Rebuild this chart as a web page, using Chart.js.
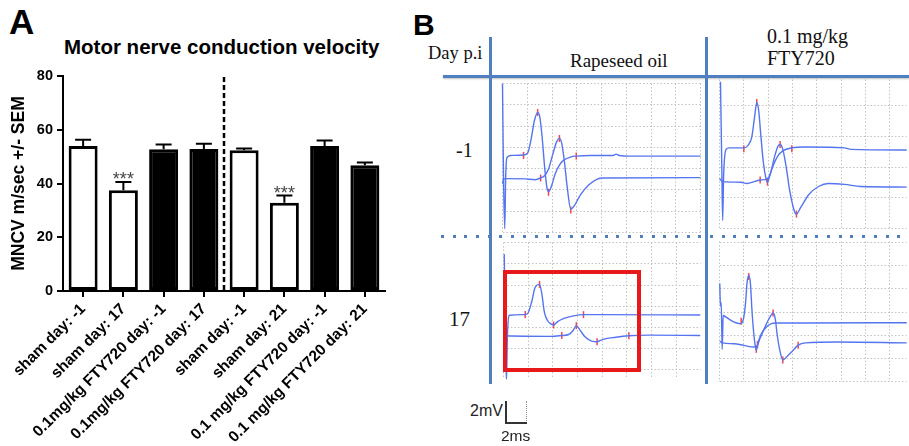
<!DOCTYPE html>
<html><head><meta charset="utf-8">
<script src="https://cdn.jsdelivr.net/npm/chart.js@4.4.1/dist/chart.umd.min.js"></script>
<style>
html,body{margin:0;padding:0;background:#fff;overflow:hidden;width:909px;height:446px}
.abs{position:absolute;white-space:nowrap}
.sans{font-family:"Liberation Sans",Arial,sans-serif;color:#000}
.serif{font-family:"Liberation Serif","Times New Roman",serif;color:#111}
canvas{position:absolute;display:block}
.frame{position:absolute;background:#4f7fbf}
</style></head><body>

<!-- Panel A -->
<div class="abs sans" style="left:9px;top:4px;font-size:35px;line-height:35px;font-weight:bold">A</div>
<div class="abs sans" style="left:64px;top:36.5px;font-size:20.5px;line-height:20.5px;font-weight:bold">Motor nerve conduction velocity</div>
<canvas id="chartA" width="400" height="446" style="left:0;top:0"></canvas>

<!-- Panel B frame and labels -->
<div class="abs sans" style="left:413px;top:9.5px;font-size:30px;line-height:30px;font-weight:bold">B</div>
<div class="abs serif" style="left:428px;top:44px;font-size:18.5px;line-height:18.5px">Day p.i</div>
<div class="abs serif" style="left:570px;top:51px;font-size:19px;line-height:19px">Rapeseed oil</div>
<div class="abs serif" style="left:767px;top:26px;font-size:20px;line-height:20px">0.1 mg/kg</div>
<div class="abs serif" style="left:767px;top:48px;font-size:20px;line-height:20px">FTY720</div>
<div class="abs serif" style="left:456px;top:140px;font-size:20px;line-height:20px">-1</div>
<div class="abs serif" style="left:449px;top:309px;font-size:21px;line-height:21px">17</div>

<canvas id="q1" width="209" height="160" style="left:497px;top:78px"></canvas>
<canvas id="q2" width="198" height="160" style="left:714px;top:74px"></canvas>
<canvas id="q3" width="208" height="147" style="left:498px;top:237px"></canvas>
<canvas id="q4" width="198" height="151" style="left:714px;top:236px"></canvas>

<div class="frame" style="left:443px;top:75px;width:466px;height:3px;box-shadow:0 1px 2px rgba(0,0,0,0.25)"></div>
<div class="frame" style="left:489px;top:37px;width:3px;height:347px"></div>
<div class="frame" style="left:705px;top:37px;width:3px;height:347px"></div>
<div class="abs" style="left:441px;top:235px;width:468px;height:3px;background:repeating-linear-gradient(to right,#4f7fbf 0 3px,transparent 3px 11.7px)"></div>

<div class="abs" style="left:503px;top:270px;width:138px;height:102px;border:4px solid #e8191a;box-sizing:border-box"></div>

<!-- scale bar -->
<div class="abs sans" style="left:470px;top:403px;font-size:16px;line-height:16px;color:#222">2mV</div>
<div class="abs" style="left:505px;top:401px;width:1.5px;height:22px;background:#333"></div>
<div class="abs" style="left:505px;top:422px;width:22px;height:1.5px;background:#333"></div>
<div class="abs" style="left:526px;top:401px;width:0;height:20px;border-left:1px dotted #888"></div>
<div class="abs sans" style="left:501px;top:427.5px;font-size:15.5px;line-height:15.5px;color:#222">2ms</div>

<script>
// ---------- Panel A data ----------
const categories = ['sham day: -1','sham day: 17','0.1mg/kg FTY720 day: -1','0.1mg/kg FTY720 day: 17',
                    'sham day: -1','sham day: 21','0.1 mg/kg FTY720 day: -1','0.1 mg/kg FTY720 day: 21'];
const meanMNCV = [54.0, 37.5, 52.7, 52.8, 52.4, 32.8, 54.0, 46.8];
const semMNCV  = [2.3, 3.1, 1.8, 2.0, 0.6, 2.7, 2.0, 1.0];
const treatment = ['sham','sham','FTY720','FTY720','sham','sham','FTY720','FTY720'];
const significance = ['', '***', '', '', '', '***', '', ''];
const yTickStep = 20;
const yMax = 80;

// ---------- Panel B data (grid divisions; x = time, y = amplitude) ----------
const q1Trace1 = [[0.0,7.0],[0.04,2.68],[0.09,0.18],[0.13,2.68],[0.18,3.52],[0.33,3.62],[0.85,3.64],[1.02,3.74],[1.15,4.35],[1.29,5.26],[1.42,5.64],[1.51,5.41],[1.60,4.50],[1.71,2.98],[1.80,2.08],[1.86,1.92],[1.97,2.15],[2.13,2.76],[2.30,3.17],[2.49,3.41],[2.76,3.55],[2.98,3.59],[3.54,3.62],[4.46,3.62],[4.59,3.68],[4.72,3.62],[5.12,3.59],[8.0,3.59]];
const q1Trace2 = [[0.0,2.30],[0.04,2.50],[0.13,2.53],[0.92,2.52],[1.31,2.48],[1.54,2.56],[1.71,2.68],[1.86,2.98],[2.03,3.67],[2.19,4.27],[2.30,4.42],[2.39,4.20],[2.49,3.44],[2.62,2.08],[2.76,1.09],[2.89,1.24],[3.15,1.77],[3.48,2.23],[3.81,2.50],[4.07,2.56],[8.0,2.58]];
const q1Marks  = [[0.85,3.62],[1.42,5.64],[1.86,1.89],[1.54,2.56],[2.30,4.42],[2.76,1.06],[2.98,3.59]];

const q2Trace1 = [[0.04,4.79],[0.09,2.26],[0.13,0.26],[0.17,1.74],[0.27,2.58],[0.40,2.63],[1.0,2.63],[1.2,2.74],[1.33,3.0],[1.44,3.63],[1.53,4.11],[1.61,3.84],[1.69,3.11],[1.8,2.16],[1.91,1.63],[1.97,1.51],[2.07,1.74],[2.2,2.05],[2.4,2.37],[2.6,2.53],[2.97,2.63],[3.53,2.66],[5.13,2.63],[5.4,2.58],[7.69,2.56]];
const q2Trace2 = [[0.0,1.63],[0.13,1.53],[0.87,1.51],[1.13,1.47],[1.67,1.58],[1.93,1.61],[2.07,1.74],[2.27,2.37],[2.4,2.68],[2.49,2.74],[2.6,2.58],[2.73,2.05],[2.89,1.21],[3.07,0.58],[3.16,0.47],[3.33,0.68],[3.67,1.11],[4.07,1.37],[4.47,1.47],[5.13,1.44],[5.8,1.37],[7.69,1.35]];
const q2Marks  = [[1.0,2.6],[1.53,4.11],[1.67,1.58],[1.97,1.51],[2.49,2.74],[2.97,2.6],[3.16,0.47]];

const q3Trace1 = [[0.03,5.46],[0.08,1.63],[0.12,-0.43],[0.16,1.63],[0.24,2.57],[0.87,2.6],[1.0,2.69],[1.13,3.15],[1.29,3.91],[1.46,4.03],[1.55,3.6],[1.66,2.69],[1.79,2.31],[1.92,2.16],[2.03,2.11],[2.18,2.26],[2.45,2.42],[2.84,2.54],[3.24,2.6],[3.76,2.6],[7.97,2.58]];
const q3Trace2 = [[0.01,1.6],[0.87,1.58],[1.92,1.57],[2.36,1.61],[2.64,1.66],[2.82,1.85],[2.95,2.08],[3.08,1.9],[3.3,1.55],[3.57,1.35],[3.79,1.32],[4.03,1.43],[4.55,1.53],[5.08,1.6],[5.87,1.63],[7.97,1.61]];
const q3Marks  = [[0.88,2.6],[1.46,4.03],[2.03,2.11],[3.24,2.6],[2.36,1.61],[2.95,2.08],[3.79,1.32],[5.08,1.6]];

const q4Trace1 = [[0.01,4.24],[0.04,3.26],[0.07,3.4],[0.11,1.39],[0.15,2.85],[0.27,2.78],[0.47,2.64],[0.67,2.54],[0.87,2.5],[0.97,2.64],[1.07,3.4],[1.13,4.24],[1.2,4.58],[1.27,4.24],[1.33,3.13],[1.4,2.15],[1.47,1.53],[1.51,1.35],[1.6,1.74],[1.73,2.08],[1.93,2.36],[2.13,2.5],[2.33,2.53],[3.53,2.53],[7.69,2.54]];
const q4Trace2 = [[0.01,1.74],[0.13,1.67],[0.6,1.63],[1.0,1.56],[1.4,1.49],[1.53,1.53],[1.67,1.88],[1.87,2.36],[2.07,2.78],[2.2,2.96],[2.29,2.71],[2.37,2.01],[2.47,1.39],[2.6,0.93],[2.8,1.11],[3.0,1.32],[3.23,1.57],[3.53,1.67],[4.87,1.71],[7.69,1.67]];
const q4Marks  = [[0.89,2.6],[1.2,4.54],[1.51,1.39],[1.56,1.6],[2.2,2.96],[2.6,0.93],[3.23,1.57]];

// ---------- Panel A chart ----------
const SANS = '"Liberation Sans", Arial, sans-serif';
const fillFor = {sham:'#ffffff', FTY720:'#000000'};

const overlayA = {
  id:'overlayA',
  afterDatasetsDraw(chart){
    const {ctx, scales:{x, y}, chartArea} = chart;
    ctx.save();
    ctx.strokeStyle = '#000'; ctx.lineWidth = 2;
    meanMNCV.forEach((m, i) => {
      const px = x.getPixelForValue(i);
      const yBar = y.getPixelForValue(m);
      const yTop = y.getPixelForValue(m + semMNCV[i]);
      ctx.beginPath();
      ctx.moveTo(px, yBar); ctx.lineTo(px, yTop);
      ctx.moveTo(px - 8, yTop); ctx.lineTo(px + 8, yTop);
      ctx.stroke();
      if (significance[i]) {
        ctx.fillStyle = '#444';
        ctx.font = '18px ' + SANS;
        ctx.textAlign = 'center';
        ctx.textBaseline = 'alphabetic';
        ctx.fillText(significance[i], px, yTop + 3.5);
      }
    });
    // dashed separator between the two experiments
    const xs = (x.getPixelForValue(3) + x.getPixelForValue(4)) / 2;
    ctx.setLineDash([5, 3]);
    ctx.lineWidth = 2.5;
    ctx.beginPath();
    ctx.moveTo(xs, chartArea.top + 1); ctx.lineTo(xs, chartArea.bottom);
    ctx.stroke();
    ctx.restore();
  }
};

new Chart(document.getElementById('chartA'), {
  type:'bar',
  data:{
    labels: categories,
    datasets:[{
      data: meanMNCV,
      backgroundColor: treatment.map(t => fillFor[t]),
      borderColor:'#000',
      borderWidth:3,
      borderSkipped:false,
      barPercentage:0.72,
      categoryPercentage:1
    }]
  },
  options:{
    responsive:false, animation:false, devicePixelRatio:1,
    layout:{padding:{top:76, right:15, left:0, bottom:0}},
    plugins:{legend:{display:false}, tooltip:{enabled:false}},
    scales:{
      x:{
        grid:{display:true, drawOnChartArea:false, drawTicks:true, tickLength:6, color:'#000', lineWidth:2, offset:false},
        border:{display:true, color:'#000', width:2},
        ticks:{color:'#000', font:{family:SANS, size:15.5, weight:'bold'}, minRotation:45, maxRotation:45, padding:3, autoSkip:false},
        afterFit(s){ s.height = 155; }
      },
      y:{
        min:0, max:yMax,
        ticks:{stepSize:yTickStep, color:'#000', font:{family:SANS, size:14.5, weight:'bold'}, padding:4},
        grid:{drawOnChartArea:false, tickLength:6, color:'#000', lineWidth:2},
        border:{color:'#000', width:2},
        title:{display:true, text:'MNCV m/sec +/- SEM', color:'#000', font:{family:SANS, size:17.5, weight:'bold'}, padding:{top:9, bottom:0}},
        afterFit(s){ s.width = 63; }
      }
    }
  },
  plugins:[overlayA]
});

// ---------- Panel B charts ----------
const TRACE = '#5575f0';
const MARK = '#f0484f';
function traceChart(id, traces, marks, xMax, yMin, yMax){
  const datasets = traces.map(t => ({
    data:t, borderColor:TRACE, borderWidth:1.4, pointRadius:0,
    cubicInterpolationMode:'monotone', clip:false
  }));
  datasets.push({
    data:marks, showLine:false, pointStyle:'line', rotation:90, pointRadius:3.5,
    pointBorderColor:MARK, pointBorderWidth:1.5, borderColor:MARK, clip:false
  });
  const axis = (min, max, fit) => ({
    type:'linear', min, max,
    ticks:{display:false, stepSize:1, includeBounds:false},
    grid:{color:'#c2c2c2', lineWidth:1, drawTicks:false},
    border:{display:false, dash:[1.5, 2]},
    afterFit: fit
  });
  new Chart(document.getElementById(id), {
    type:'line',
    data:{datasets},
    options:{
      responsive:false, animation:false, devicePixelRatio:1,
      layout:{padding:3},
      plugins:{legend:{display:false}, tooltip:{enabled:false}},
      scales:{
        x: axis(0, xMax, s => { s.height = 0; }),
        y: axis(yMin, yMax, s => { s.width = 0; })
      }
    }
  });
}
traceChart('q1', [q1Trace1, q1Trace2], q1Marks, 8, 0, 7);
traceChart('q2', [q2Trace1, q2Trace2], q2Marks, 7.68, 0, 4.86);
traceChart('q3', [q3Trace1, q3Trace2], q3Marks, 7.98, -0.42, 6.01);
traceChart('q4', [q4Trace1, q4Trace2], q4Marks, 7.68, 0, 6.05);
</script>
</body></html>
